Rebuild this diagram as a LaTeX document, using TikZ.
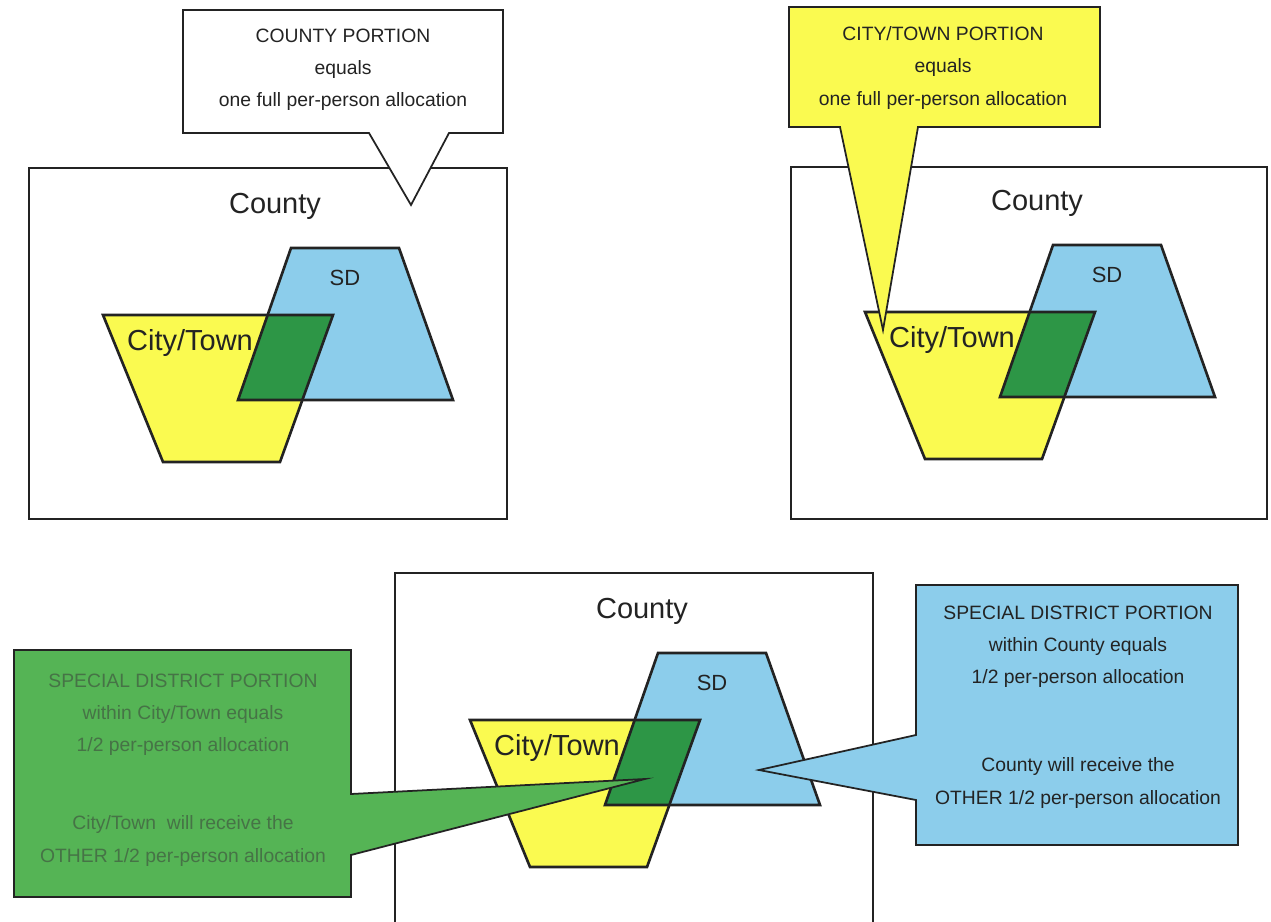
\documentclass[tikz,border=0pt]{standalone}
\usepackage{fontspec}
\setmainfont{Liberation Sans}
\usetikzlibrary{positioning}

\definecolor{cityyellow}{RGB}{250,250,80}
\definecolor{sdblue}{RGB}{140,205,235}
\definecolor{overlapgreen}{RGB}{45,150,70}
\definecolor{notegreen}{RGB}{85,180,85}
\definecolor{notegreentext}{RGB}{70,115,70}
\definecolor{inkgray}{RGB}{35,35,35}

\begin{document}
\begin{tikzpicture}[x=0.02cm,y=-0.02cm,
    boxline/.style={draw=inkgray,line width=1.1pt},
    shapeline/.style={draw=inkgray,line width=1.5pt,line join=miter},
    noteline/.style={draw=inkgray,line width=1pt,line join=miter},
    bigtext/.style={font=\fontsize{16.5}{18}\selectfont,text=inkgray,inner sep=0pt},
    sdtext/.style={font=\fontsize{12.5}{14}\selectfont,text=inkgray,inner sep=0pt},
    notetext/.style={font=\fontsize{11}{18.3}\selectfont,align=center,text=inkgray,inner sep=0pt}]

    \useasboundingbox (0,0) rectangle (1271,922);

    % county boxes
    \draw[boxline] (29,168) rectangle (507,519);
    \draw[boxline] (791,167) rectangle (1267,519);
    \draw[boxline] (395,922) -- (395,573) -- (873,573) -- (873,922);

    % city/town, special district and their overlap, once per panel
    \foreach \i/\dx/\dy in {1/0/0, 2/762/-3, 3/367/405} {
      \begin{scope}[shift={(\dx,\dy)}]
        \fill[cityyellow] (103,315) -- (333,315) -- (280,462) -- (163,462) -- cycle;
        \fill[sdblue] (291,248) -- (399,248) -- (453,400) -- (238,400) -- cycle;
        \begin{scope}
          \clip (103,315) -- (333,315) -- (280,462) -- (163,462) -- cycle;
          \fill[overlapgreen] (291,248) -- (399,248) -- (453,400) -- (238,400) -- cycle;
        \end{scope}
        \draw[shapeline] (103,315) -- (333,315) -- (280,462) -- (163,462) -- cycle;
        \draw[shapeline] (291,248) -- (399,248) -- (453,400) -- (238,400) -- cycle;
        \node[bigtext] (county\i) at (275,206) {County};
        \node[bigtext] (city\i) at (190,343) {City/Town};
        \node[sdtext] (sd\i) at (345,278) {SD};
      \end{scope}
    }

    % county portion note
    \draw[noteline,fill=white] (183,10) -- (503,10) -- (503,133) -- (449,133) -- (411,205)
      -- (369,133) -- (183,133) -- cycle;
    \node[notetext] (countynote) at (343,70) {COUNTY PORTION\\equals\\one full per-person allocation};

    % city/town portion note
    \draw[noteline,fill=cityyellow] (789,7) -- (1100,7) -- (1100,127) -- (918,127) -- (883,330)
      -- (840,127) -- (789,127) -- cycle;
    \node[notetext] (citynote) at (943,68) {CITY/TOWN PORTION\\equals\\one full per-person allocation};

    % special district note within city/town
    \draw[noteline,fill=notegreen] (14,650) -- (351,650) -- (351,794) -- (645,779) -- (351,855)
      -- (351,897) -- (14,897) -- cycle;
    \node[notetext,text=notegreentext] (sdcityshare) at (183,715) {SPECIAL DISTRICT PORTION\\within City/Town equals\\1/2 per-person allocation};
    \node[notetext,text=notegreentext] (sdcityrest) at (183,841) {City/Town\ \ will receive the\\OTHER 1/2 per-person allocation};

    % special district note within county
    \draw[noteline,fill=sdblue] (916,585) -- (1238,585) -- (1238,845) -- (916,845) -- (916,800)
      -- (759,770) -- (916,735) -- cycle;
    \node[notetext] (sdcountyshare) at (1078,647) {SPECIAL DISTRICT PORTION\\within County equals\\1/2 per-person allocation};
    \node[notetext] (sdcountyrest) at (1078,783) {County will receive the\\OTHER 1/2 per-person allocation};

\end{tikzpicture}
\end{document}
